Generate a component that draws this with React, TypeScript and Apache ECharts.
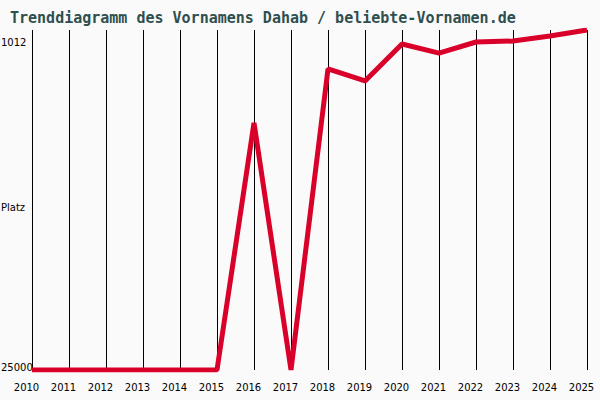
import { useEffect, useRef } from 'react';
import * as echarts from 'echarts';

// Jahre (x-Achse) und Platzierung pro Jahr
const years = ['2010', '2011', '2012', '2013', '2014', '2015', '2016', '2017', '2018', '2019', '2020', '2021', '2022', '2023', '2024', '2025'];
const ranks = [25000, 25000, 25000, 25000, 25000, 25000, 7570, 25000, 3760, 4610, 2000, 2640, 1860, 1790, 1430, 1012];
const bestRank = 1012;
const worstRank = 25000;
const yLabels = ['1012', 'Platz', '25000'];
const titleText = 'Trenddiagramm des Vornamens Dahab / beliebte-Vornamen.de';

export default function App() {
  const chartRef = useRef<HTMLDivElement>(null);

  useEffect(() => {
    if (!chartRef.current) return;
    const chart = echarts.init(chartRef.current, null, { renderer: 'svg' });

    const labelStyle = { fill: '#000', font: '10px "DejaVu Sans"' };

    const option: echarts.EChartsOption = {
      animation: false,
      backgroundColor: '#fafafa',
      title: {
        text: titleText,
        left: 10,
        top: 10,
        padding: 0,
        textStyle: {
          fontFamily: '"DejaVu Sans Mono", monospace',
          fontSize: 15,
          fontWeight: 'bold',
          color: '#2f4f4f',
        },
      },
      grid: {
        left: 32,
        right: 13,
        top: 30,
        bottom: 30,
        containLabel: false,
      },
      xAxis: {
        type: 'category',
        data: years,
        boundaryGap: false,
        axisLine: { show: false },
        axisTick: { show: false },
        axisLabel: {
          color: '#000',
          fontFamily: '"DejaVu Sans"',
          fontSize: 10,
          margin: 12,
          interval: 0,
          // Beschriftungen sitzen leicht links von den Gitterlinien
          padding: [0, 11, 0, 0],
        },
        splitLine: {
          show: true,
          lineStyle: { color: '#000', width: 1 },
        },
      },
      yAxis: {
        type: 'value',
        inverse: true,
        min: bestRank,
        max: worstRank,
        axisLine: { show: false },
        axisTick: { show: false },
        axisLabel: { show: false },
        splitLine: { show: false },
      },
      graphic: [
        { type: 'text', left: 1, top: 37, style: { text: yLabels[0], ...labelStyle } },
        { type: 'text', left: 1, top: 202, style: { text: yLabels[1], ...labelStyle } },
        { type: 'text', left: 1, top: 362, style: { text: yLabels[2], ...labelStyle } },
      ],
      series: [
        {
          type: 'line',
          data: ranks,
          symbol: 'none',
          lineStyle: { color: '#d9002a', width: 5 },
        },
      ],
    };

    chart.setOption(option);
    return () => chart.dispose();
  }, []);

  return (
    <div
      ref={chartRef}
      style={{ position: 'absolute', left: 0, top: 0, width: '600px', height: '400px' }}
    />
  );
}
